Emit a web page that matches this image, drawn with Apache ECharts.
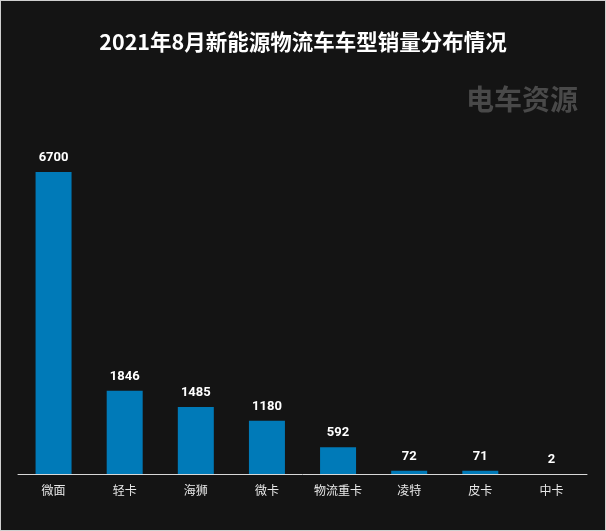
<!DOCTYPE html>
<html><head><meta charset="utf-8">
<script src="https://cdn.jsdelivr.net/npm/echarts@6/dist/echarts.min.js"></script>
<style>html,body{margin:0;padding:0;background:#141414;}#c{width:606px;height:531px;}
#frame{position:absolute;left:0;top:0;width:604px;height:529px;border:1px solid #cfcfcf;pointer-events:none;}</style>
</head><body><div id="c"></div><div id="frame"></div>
<script>
const categories = ['微面','轻卡','海狮','微卡','物流重卡','凌特','皮卡','中卡'];
const sales = [6700,1846,1485,1180,592,72,71,2];
const titleText = '2021年8月新能源物流车车型销量分布情况';
const watermark = '电车资源';

const chart = echarts.init(document.getElementById('c'));
chart.setOption({
  backgroundColor: '#141414',
  animation: false,
  title: {
    text: titleText, left: 'center', top: 26,
    textStyle: {color: '#ffffff', fontSize: 21.5, fontWeight: 'bold', fontFamily: 'Noto Sans CJK SC'}
  },
  graphic: [
    {type: 'text', left: 466, top: 85, style: {text: watermark, fill: '#494949', font: 'bold 28px "Noto Sans CJK SC"'}, silent: true}
  ],
  grid: {left: 18, right: 19, top: 158.5, bottom: 57},
  xAxis: {
    type: 'category', data: categories,
    axisLine: {lineStyle: {color: '#d8d8d8', width: 1}},
    axisTick: {show: false},
    axisLabel: {color: '#e8e8e8', fontSize: 12, margin: 10, fontFamily: 'Noto Sans CJK SC'}
  },
  yAxis: {type: 'value', min: 0, max: 7000, show: false, splitLine: {show: false}},
  series: [{
    type: 'bar', data: sales, barWidth: 36,
    itemStyle: {color: '#007ab8'},
    label: {show: true, position: 'top', distance: 8, color: '#ffffff', fontSize: 13, fontWeight: 'bold', fontFamily: 'Roboto'}
  }]
});
</script></body></html>
